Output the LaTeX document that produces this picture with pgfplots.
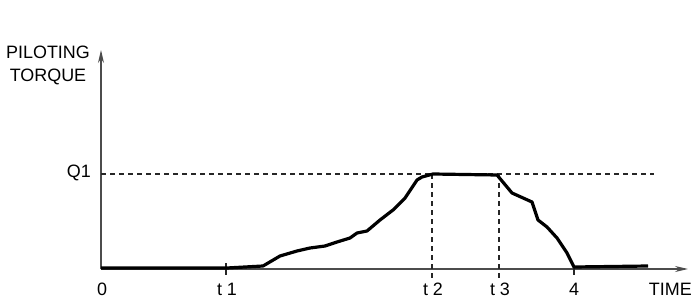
\documentclass[border=0pt]{standalone}
\usepackage{pgfplots}
\pgfplotsset{compat=1.18}
\usepackage{fontspec}
\setmainfont{Liberation Sans}
\usetikzlibrary{arrows.meta}
\begin{document}
\begin{tikzpicture}[x=1bp,y=1bp]
\path[use as bounding box] (0,0) rectangle (700,303);
\begin{axis}[
  at={(101bp,34bp)}, anchor=south west,
  scale only axis, width=587bp, height=219bp,
  xmin=0, xmax=587, ymin=0, ymax=219,
  axis lines=left,
  axis line style={black!70, line width=1.3bp},
  x axis line style={-{Stealth[length=13bp,width=6bp]}},
  y axis line style={-{Stealth[length=13bp,width=6bp]}},
  xtick=\empty, ytick=\empty,
  clip=false,
]
% guide lines
\addplot[black!85, line width=1.1bp, dash pattern=on 5bp off 4bp] coordinates {(0,95) (553,95)};
\addplot[black!85, line width=1.1bp, dash pattern=on 5bp off 4bp] coordinates {(331,95) (331,-10)};
\addplot[black!85, line width=1.1bp, dash pattern=on 5bp off 4bp] coordinates {(398,95) (398,-10)};
\addplot[black!85, line width=1.1bp] coordinates {(125,6) (125,-6)};
\addplot[black!85, line width=1.1bp] coordinates {(473,2) (473,-6)};
% torque curve
\addplot[black, line width=3.2bp, line join=round] coordinates {
(0,1) (126,1) (162,3) (179,13) (196,18) (209,21) (224,23) (236,27) (249,31) (256,36) (266,38) (279,49) (292,59) (304,71) (316,89) (321,92) (332,95) (396,94) (411,76) (431,67) (437,49) (446,42) (456,31) (466,16) (473,2) (547,3)
};
\node[font=\fontsize{18}{21}\selectfont, anchor=base] at (axis cs:1,-26) {0};
\node[font=\fontsize{18}{21}\selectfont, anchor=base] at (axis cs:126,-26) {t 1};
\node[font=\fontsize{18}{21}\selectfont, anchor=base] at (axis cs:332,-26) {t 2};
\node[font=\fontsize{18}{21}\selectfont, anchor=base] at (axis cs:399,-26) {t 3};
\node[font=\fontsize{18}{21}\selectfont, anchor=base] at (axis cs:473,-26) {4};
\node[font=\fontsize{18}{21}\selectfont, anchor=base east, inner sep=0pt] at (axis cs:591,-26) {TIME};
\node[font=\fontsize{18}{21}\selectfont, anchor=east, inner sep=0pt] at (axis cs:-10,96) {Q1};
\end{axis}
\node[font=\fontsize{18}{23}\selectfont, align=center, inner sep=0pt] at (48,238) {PILOTING\\TORQUE};
\end{tikzpicture}
\end{document}
